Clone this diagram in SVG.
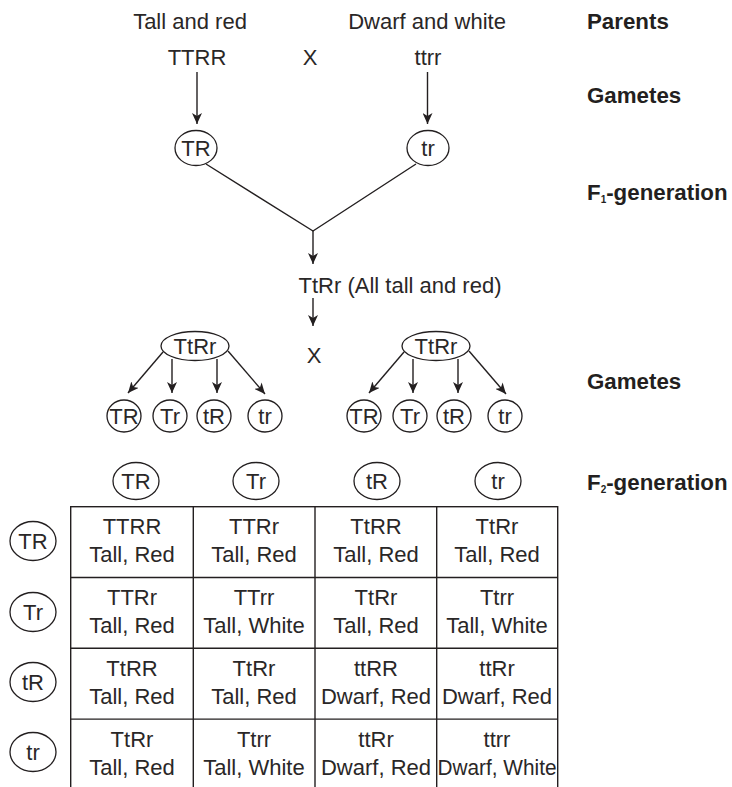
<svg xmlns="http://www.w3.org/2000/svg" width="732" height="787" viewBox="0 0 732 787">
<defs>
<marker id="ah" markerWidth="12" markerHeight="10" refX="11" refY="5" orient="auto" markerUnits="userSpaceOnUse">
<path d="M0,0 L11,5 L0,10 L3,5 Z" fill="#231f20"/>
</marker>
<style>
text{font-family:"Liberation Sans",Arial,sans-serif;fill:#2a2727;font-size:22px;text-anchor:middle}
.lbl{font-weight:bold;text-anchor:start;font-size:22.3px;fill:#231f20}
.sub{font-size:10px;font-weight:bold}
.ln{stroke:#231f20;stroke-width:1.4;fill:none}
.ar{stroke:#231f20;stroke-width:1.4;fill:none;marker-end:url(#ah)}
.c{stroke:#231f20;stroke-width:1.3;fill:#fff}
</style>
</defs>
<rect width="732" height="787" fill="#fff"/>

<g id="labels">
<text class="lbl" x="587" y="29">Parents</text>
<text class="lbl" x="587" y="103">Gametes</text>
<text class="lbl" x="587" y="200">F<tspan class="sub" dy="3">1</tspan><tspan dy="-3">-generation</tspan></text>
<text class="lbl" x="587" y="389">Gametes</text>
<text class="lbl" x="587" y="490">F<tspan class="sub" dy="3">2</tspan><tspan dy="-3">-generation</tspan></text>
</g>

<g id="parents">
<text x="190" y="29">Tall and red</text>
<text x="427" y="29">Dwarf and white</text>
<text x="197" y="65">TTRR</text>
<text x="310" y="65">X</text>
<text x="428" y="65">ttrr</text>
</g>

<g id="gamete-TR"><ellipse class="c" cx="196" cy="148" rx="21" ry="17.5"/><text x="196" y="156">TR</text></g>
<g id="gamete-tr"><ellipse class="c" cx="428" cy="148" rx="21" ry="17.5"/><text x="428" y="156">tr</text></g>

<g id="f1"><text x="400" y="293">TtRr (All tall and red)</text></g>
<g id="cross2"><text x="314" y="363">X</text></g>

<g id="parent-left"><ellipse class="c" cx="195" cy="346" rx="34" ry="14.5"/><text x="195" y="354">TtRr</text></g>
<g id="parent-right"><ellipse class="c" cx="436" cy="346" rx="34" ry="14.5"/><text x="436" y="354">TtRr</text></g>

<g id="gametes-left">
<ellipse class="c" cx="124" cy="416" rx="17" ry="16"/><text x="124" y="424">TR</text>
<ellipse class="c" cx="170" cy="416" rx="17" ry="16"/><text x="170" y="424">Tr</text>
<ellipse class="c" cx="214" cy="416" rx="17" ry="16"/><text x="214" y="424">tR</text>
<ellipse class="c" cx="265" cy="416" rx="17" ry="16"/><text x="265" y="424">tr</text>
</g>
<g id="gametes-right">
<ellipse class="c" cx="364" cy="416" rx="17" ry="16"/><text x="364" y="424">TR</text>
<ellipse class="c" cx="410" cy="416" rx="17" ry="16"/><text x="410" y="424">Tr</text>
<ellipse class="c" cx="454" cy="416" rx="17" ry="16"/><text x="454" y="424">tR</text>
<ellipse class="c" cx="505" cy="416" rx="17" ry="16"/><text x="505" y="424">tr</text>
</g>

<g id="connectors">
<line class="ar" x1="197" y1="72" x2="197" y2="124"/>
<line class="ar" x1="427.5" y1="72" x2="427.5" y2="124"/>
<polyline class="ln" points="206,164 313,231 416,164"/>
<line class="ar" x1="313" y1="231" x2="313" y2="264"/>
<line class="ar" x1="313" y1="298" x2="313" y2="326"/>
<line class="ar" x1="163" y1="352" x2="128" y2="393"/>
<line class="ar" x1="172" y1="359" x2="172" y2="393"/>
<line class="ar" x1="217" y1="359" x2="217" y2="393"/>
<line class="ar" x1="228" y1="351" x2="265" y2="394"/>
<line class="ar" x1="404" y1="352" x2="369" y2="393"/>
<line class="ar" x1="413" y1="359" x2="413" y2="393"/>
<line class="ar" x1="458" y1="359" x2="458" y2="393"/>
<line class="ar" x1="469" y1="351" x2="506" y2="394"/>
</g>

<g id="col-headers">
<ellipse class="c" cx="136" cy="481" rx="23" ry="18.5"/><text x="136" y="489">TR</text>
<ellipse class="c" cx="256" cy="481" rx="23" ry="18.5"/><text x="256" y="489">Tr</text>
<ellipse class="c" cx="377" cy="481" rx="23" ry="18.5"/><text x="377" y="489">tR</text>
<ellipse class="c" cx="498" cy="481" rx="23" ry="18.5"/><text x="498" y="489">tr</text>
</g>

<g id="row-headers">
<ellipse class="c" cx="33" cy="541" rx="23" ry="19.5"/><text x="33" y="549">TR</text>
<ellipse class="c" cx="33" cy="612" rx="23" ry="19.5"/><text x="33" y="620">Tr</text>
<ellipse class="c" cx="33" cy="682" rx="23" ry="19.5"/><text x="33" y="690">tR</text>
<ellipse class="c" cx="33" cy="752" rx="23" ry="19.5"/><text x="33" y="760">tr</text>
</g>

<g id="grid">
<rect class="ln" x="70.7" y="506.7" width="487" height="284"/>
<line class="ln" x1="193.3" y1="506.7" x2="193.3" y2="791"/>
<line class="ln" x1="315" y1="506.7" x2="315" y2="791"/>
<line class="ln" x1="436.7" y1="506.7" x2="436.7" y2="791"/>
<line class="ln" x1="70.7" y1="577.5" x2="557.7" y2="577.5"/>
<line class="ln" x1="70.7" y1="648.3" x2="557.7" y2="648.3"/>
<line class="ln" x1="70.7" y1="719.1" x2="557.7" y2="719.1"/>
</g>

<g id="cells">
<text x="132" y="534">TTRR</text><text x="132" y="562">Tall, Red</text>
<text x="254" y="534">TTRr</text><text x="254" y="562">Tall, Red</text>
<text x="376" y="534">TtRR</text><text x="376" y="562">Tall, Red</text>
<text x="497" y="534">TtRr</text><text x="497" y="562">Tall, Red</text>

<text x="132" y="605">TTRr</text><text x="132" y="633">Tall, Red</text>
<text x="254" y="605">TTrr</text><text x="254" y="633">Tall, White</text>
<text x="376" y="605">TtRr</text><text x="376" y="633">Tall, Red</text>
<text x="497" y="605">Ttrr</text><text x="497" y="633">Tall, White</text>

<text x="132" y="676">TtRR</text><text x="132" y="704">Tall, Red</text>
<text x="254" y="676">TtRr</text><text x="254" y="704">Tall, Red</text>
<text x="376" y="676">ttRR</text><text x="376" y="704">Dwarf, Red</text>
<text x="497" y="676">ttRr</text><text x="497" y="704">Dwarf, Red</text>

<text x="132" y="747">TtRr</text><text x="132" y="775">Tall, Red</text>
<text x="254" y="747">Ttrr</text><text x="254" y="775">Tall, White</text>
<text x="376" y="747">ttRr</text><text x="376" y="775">Dwarf, Red</text>
<text x="497" y="747">ttrr</text><text x="497" y="775" textLength="119" lengthAdjust="spacingAndGlyphs">Dwarf, White</text>
</g>
</svg>
